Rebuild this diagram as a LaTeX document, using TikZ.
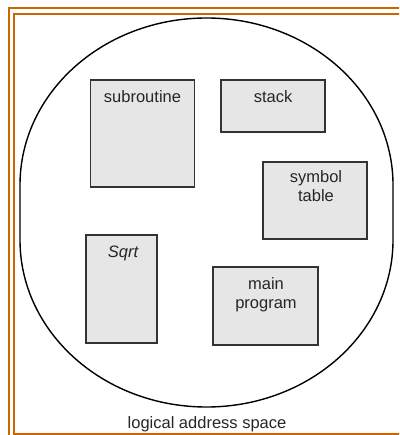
\documentclass[tikz,border=0pt]{standalone}
\usepackage{fontspec}
\setmainfont{Liberation Sans}
\definecolor{frameorange}{HTML}{CC6600}
\definecolor{boxfill}{HTML}{E6E6E6}
\definecolor{boxline}{HTML}{333333}
\begin{document}
\begin{tikzpicture}[x=1pt,y=-1pt,
  segbox/.style={rectangle, draw=boxline, line width=1.5pt, fill=boxfill, inner sep=0pt, outer sep=0pt},
  lbl/.style={font=\fontsize{16.5}{19}\selectfont, text=black!85, anchor=base, inner sep=0pt, align=center},
  framebar/.style={draw=frameorange, line width=2pt}]
\useasboundingbox (0,0) rectangle (399,435);
\clip (0,0) rectangle (399,435);
% frame
\draw[framebar] (9,440) -- (9,8.5) -- (405,8.5);
\draw[framebar] (405,433.5) -- (14,433.5) -- (14,14) -- (405,14);
% address space outline
\draw[line width=1.4pt] (20,240) -- (20,185)
  arc[start angle=180, end angle=360, x radius=186.5, y radius=167]
  -- (393,240)
  arc[start angle=0, end angle=180, x radius=186.5, y radius=167]
  -- cycle;
% segments
\node[segbox, minimum width=104pt, minimum height=107pt] (sub) at (142.5,133.5) {};
\node[segbox, minimum width=104pt, minimum height=52pt] (stk) at (273,106) {};
\node[segbox, minimum width=104pt, minimum height=77pt] (sym) at (315,200.5) {};
\node[segbox, minimum width=105pt, minimum height=78pt] (mainp) at (265.5,306) {};
\node[segbox, minimum width=71pt, minimum height=108pt] (sqrt) at (121.5,289) {};
% labels
\node[lbl] (subl) at (142.5,103) {subroutine};
\node[lbl] (stkl) at (273,103) {stack};
\node[lbl] (syml) at (316,202) {symbol\\table};
\node[lbl] (mainl) at (266,308) {main\\program};
\node[lbl, font=\fontsize{16.5}{19}\selectfont\itshape] (sqrtl) at (123,257.5) {Sqrt};
\node[lbl] (las) at (207,428) {logical address space};
\end{tikzpicture}
\end{document}
